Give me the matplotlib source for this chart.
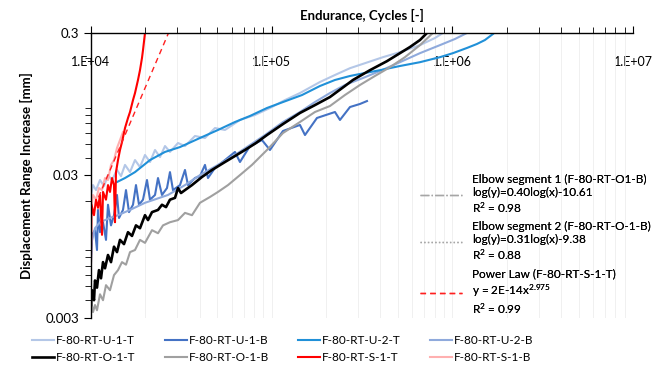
import matplotlib
matplotlib.use("Agg")
import matplotlib.pyplot as plt
from matplotlib.lines import Line2D

plt.rcParams['font.family'] = ['Lato', 'DejaVu Sans']
plt.rcParams['mathtext.fontset'] = 'custom'
plt.rcParams['mathtext.rm'] = 'Lato'
plt.rcParams['mathtext.it'] = 'Lato'

# ---------------- data (cycles, mm) ----------------
u1t_x = [10000, 10257, 10658, 11215, 11800, 12418, 13068, 13929, 14656, 15426, 16440, 17521, 18669,
         19900, 21210, 22610, 24090, 25680, 27360, 30310, 33130, 37630, 42740, 48560, 55140, 66760,
         80840, 97860, 118500, 143400, 185000, 224000, 271300, 328400, 413000, 512900, 662000,
         801400, 887100]
u1t_y = [0.0219, 0.0257, 0.0237, 0.0279, 0.0253, 0.0302, 0.0279, 0.0328, 0.0297, 0.0356, 0.0317,
         0.0385, 0.0344, 0.0418, 0.0373, 0.0453, 0.0404, 0.0483, 0.0439, 0.0507, 0.0483, 0.0568,
         0.0550, 0.0646, 0.0626, 0.0736, 0.0798, 0.0893, 0.1015, 0.1137, 0.1359, 0.1522, 0.1699,
         0.1842, 0.2030, 0.2201, 0.2466, 0.2767, 0.3]

u1b_x = [10000, 10128, 10523, 10794, 10933, 11215, 11654, 12106, 12418, 12903, 13406, 13929, 14289,
         15034, 15620, 16229, 17078, 17742, 18437, 19400, 20410, 21210, 22610, 23490, 24710, 26340,
         27360, 28430, 31090, 33130, 34410, 37630, 40110, 42740, 44410, 48560, 55140, 62640, 66760,
         75850, 88390, 97860, 115500, 143400, 152900, 178100, 224000, 238800, 271300, 308100, 337000]
u1b_y = [0.0074, 0.0115, 0.0124, 0.0090, 0.0172, 0.0120, 0.0141, 0.0106, 0.0187, 0.0134, 0.0158,
         0.0219, 0.0151, 0.0172, 0.0237, 0.0166, 0.0187, 0.0257, 0.0187, 0.0203, 0.0279, 0.0203,
         0.0219, 0.0288, 0.0219, 0.0245, 0.0317, 0.0237, 0.0257, 0.0328, 0.0257, 0.0288, 0.0297,
         0.0356, 0.0288, 0.0339, 0.0385, 0.0439, 0.0373, 0.0483, 0.0532, 0.0453, 0.0616, 0.0679,
         0.0577, 0.0760, 0.0837, 0.0736, 0.0907, 0.0953, 0.0999]

u2t_x = [13929, 15426, 17521, 21210, 25680, 31090, 40110, 50440, 62640, 75850, 94190, 115500,
         147200, 185000, 224000, 271300, 328400, 397600, 512900, 662000, 853800, 1007600, 1204000,
         1368000, 1515000, 1678000]
u2t_y = [0.0270, 0.0288, 0.0317, 0.0385, 0.0439, 0.0475, 0.0550, 0.0626, 0.0712, 0.0785, 0.0893,
         0.0983, 0.1101, 0.1274, 0.1404, 0.1498, 0.1572, 0.1645, 0.1760, 0.1872, 0.2030, 0.2166,
         0.2355, 0.2512, 0.2678, 0.2952]

u2b_x = [10000, 10523, 11215, 12739, 14107, 16440, 19900, 26670, 33130, 40110, 50440, 62640, 75850,
         91830, 115500, 143400, 173600, 210200, 254400, 320200, 397600, 512900, 662000, 853800,
         1034000, 1204000]
u2b_y = [0.0098, 0.0128, 0.0141, 0.0151, 0.0158, 0.0172, 0.0193, 0.0219, 0.0257, 0.0302, 0.0356,
         0.0418, 0.0491, 0.0577, 0.0712, 0.0837, 0.0983, 0.1137, 0.1295, 0.1450, 0.1624, 0.1872,
         0.2166, 0.2466, 0.2723, 0.3]

o1t_x = [10000, 10128, 10390, 10523, 10794, 11070, 11360, 11654, 11955, 12418, 12903, 13406, 13929,
         14471, 15225, 16024, 16864, 17742, 18669, 19900, 20680, 21760, 23490, 24710, 26010, 27360,
         29170, 30310, 31480, 33130, 36220, 41150, 46720, 55140, 62640, 71140, 81880, 94190, 115500,
         143400, 173600, 210200, 254400, 281800, 349900, 434600, 512900, 582900, 662000, 723700]
o1t_y = [0.0037, 0.0047, 0.0040, 0.0055, 0.0049, 0.0065, 0.0057, 0.0074, 0.0067, 0.0083, 0.0074,
         0.0095, 0.0087, 0.0106, 0.0099, 0.0120, 0.0113, 0.0134, 0.0128, 0.0158, 0.0146, 0.0166,
         0.0172, 0.0187, 0.0180, 0.0203, 0.0209, 0.0245, 0.0226, 0.0237, 0.0257, 0.0293, 0.0328,
         0.0373, 0.0411, 0.0453, 0.0507, 0.0577, 0.0689, 0.0824, 0.0936, 0.1066, 0.1274, 0.1404,
         0.1645, 0.1903, 0.2166, 0.2392, 0.2678, 0.3]

o1b_x = [10000, 10257, 10523, 10794, 11215, 11654, 12106, 12739, 13406, 14107, 14844, 15620, 16440,
         17521, 18669, 19900, 21760, 23490, 25030, 27360, 30310, 33130, 36220, 40110, 45550, 50440,
         57320, 66760, 77800, 94190, 115500, 143400, 173600, 210200, 254400, 308100, 372900, 451500,
         546700, 662000, 780800]
o1b_y = [0.0040, 0.0033, 0.0037, 0.0034, 0.0044, 0.0040, 0.0051, 0.0047, 0.0060, 0.0065, 0.0074,
         0.0071, 0.0087, 0.0090, 0.0106, 0.0101, 0.0124, 0.0118, 0.0134, 0.0141, 0.0146, 0.0164,
         0.0158, 0.0193, 0.0212, 0.0230, 0.0257, 0.0302, 0.0356, 0.0453, 0.0596, 0.0712, 0.0837,
         0.0922, 0.1101, 0.1295, 0.1498, 0.1726, 0.2030, 0.2466, 0.3]

s1t_x = [10000, 10064, 10390, 10658, 10933, 11215, 11506, 11654, 12106, 12418, 12739, 13068, 13406,
         13578, 13751, 14107, 14471, 14844, 15426, 16024, 16440, 17080, 17521, 18200, 18669, 19150,
         19400, 19900]
s1t_y = [0.0074, 0.0187, 0.0158, 0.0203, 0.0178, 0.0219, 0.0115, 0.0230, 0.0203, 0.0257, 0.0230,
         0.0288, 0.0257, 0.0141, 0.0317, 0.0385, 0.0453, 0.0515, 0.0646, 0.0760, 0.0837, 0.1015,
         0.1137, 0.1404, 0.1645, 0.2003, 0.2274, 0.3]

s1b_x = [10000, 10257, 10658, 11070, 11506, 11955, 12418, 12903, 13406, 13929, 14471, 15030]
s1b_y = [0.0172, 0.0219, 0.0203, 0.0245, 0.0237, 0.0288, 0.0279, 0.0356, 0.0385, 0.0468, 0.0532,
         0.0606]

# power law fit y = 2E-14 x^2.975 (drawn over its range)
fit_coef = 2e-14
fit_exp = 2.975
fit_x = [11000, 12000, 14000, 16000, 18000, 20000, 22000, 24000, 26000, 27000]
fit_y = [fit_coef * v ** fit_exp for v in fit_x]

series_labels = ['F-80-RT-U-1-T', 'F-80-RT-U-1-B', 'F-80-RT-U-2-T', 'F-80-RT-U-2-B',
                 'F-80-RT-O-1-T', 'F-80-RT-O-1-B', 'F-80-RT-S-1-T', 'F-80-RT-S-1-B']
x_ticks = [1e4, 1e5, 1e6, 1e7]
x_tick_labels = ['1.E+04', '1.E+05', '1.E+06', '1.E+07']
y_ticks = [0.003, 0.03, 0.3]
y_tick_labels = ['0.003', '0.03', '0.3']

# ---------------- figure ----------------
fig = plt.figure(figsize=(6.64, 3.68), dpi=100)
ax = fig.add_axes([91 / 664, 1 - 318 / 368, (633 - 91) / 664, (318 - 33) / 368])
ax.set_xscale('log')
ax.set_yscale('log')
ax.set_xlim(1e4, 1e7)
ax.set_ylim(0.003, 0.3)

c_u1t = '#B4C7E7'
c_u1b = '#4472C4'
c_u2t = '#2090D8'
c_u2b = '#8FAADC'
c_o1t = '#000000'
c_o1b = '#A0A0A0'
c_s1t = '#FF0000'
c_s1b = '#FFB0B0'

lw = 1.5
h_u1t, = ax.plot(u1t_x, u1t_y, color=c_u1t, lw=lw, label=series_labels[0])
h_u1b, = ax.plot(u1b_x, u1b_y, color=c_u1b, lw=lw, label=series_labels[1])
h_u2b, = ax.plot(u2b_x, u2b_y, color=c_u2b, lw=lw, label=series_labels[3])
h_u2t, = ax.plot(u2t_x, u2t_y, color=c_u2t, lw=lw, label=series_labels[2])
h_o1b, = ax.plot(o1b_x, o1b_y, color=c_o1b, lw=lw, label=series_labels[5])
h_o1t, = ax.plot(o1t_x, o1t_y, color=c_o1t, lw=1.9, label=series_labels[4])
h_s1b, = ax.plot(s1b_x, s1b_y, color=c_s1b, lw=lw, label=series_labels[7])
h_s1t, = ax.plot(s1t_x, s1t_y, color=c_s1t, lw=lw, label=series_labels[6])
ax.plot(fit_x, fit_y, color='#FF2020', lw=1.0, ls=(0, (4, 3)))

# axes styling
for s in ['right', 'bottom']:
    ax.spines[s].set_visible(False)
ax.spines['top'].set_linewidth(1.0)
ax.spines['left'].set_linewidth(1.0)
ax.xaxis.set_label_position('top')
ax.tick_params(axis='x', which='both', top=True, bottom=False, labeltop=True, labelbottom=False,
               direction='out', pad=-30, labelsize=9)
ax.tick_params(axis='x', which='major', length=5)
ax.tick_params(axis='x', which='minor', length=4)
ax.tick_params(axis='y', which='both', left=True, right=False, direction='out', labelsize=9.5)
ax.tick_params(axis='y', which='major', length=5)
ax.tick_params(axis='y', which='minor', length=4)
ax.set_xticks(x_ticks)
ax.set_xticklabels(x_tick_labels)
ax.set_yticks(y_ticks)
ax.set_yticklabels(y_tick_labels)
ax.yaxis.set_minor_formatter(matplotlib.ticker.NullFormatter())
ax.xaxis.set_minor_formatter(matplotlib.ticker.NullFormatter())
ax.grid(True, axis='x', which='both', color='#EEEEEE', lw=0.6)
ax.set_axisbelow(True)

ax.set_xlabel('Endurance, Cycles [-]', fontsize=9.5, fontweight='bold', labelpad=4)
ax.set_ylabel('Displacement Range Increase [mm]', fontsize=9.5, fontweight='bold', labelpad=9)

# trendline legend (inside right)
tr_handles = [Line2D([], [], color='#A6A6A6', lw=1.0, ls='-.'),
              Line2D([], [], color='#A6A6A6', lw=1.0, ls=':'),
              Line2D([], [], color='#FF2020', lw=1.0, ls=(0, (4, 3)))]
tr_labels = ['Elbow segment 1 (F-80-RT-O1-B)\nlog(y)=0.40log(x)-10.61\nR$^2$ = 0.98',
             'Elbow segment 2 (F-80-RT-O-1-B)\nlog(y)=0.31log(x)-9.38\nR$^2$ = 0.88',
             'Power Law (F-80-RT-S-1-T)\ny = 2E-14x$^{2.975}$\nR$^2$ = 0.99']
leg1 = ax.legend(tr_handles, tr_labels, loc='upper left', bbox_to_anchor=(414 / 664, 1 - 168 / 368),
                 bbox_transform=fig.transFigure, frameon=False, fontsize=8.5, handlelength=3.6,
                 handletextpad=0.8, labelspacing=0.55, borderpad=0)
ax.add_artist(leg1)

# bottom series legend
order = [h_u1t, h_o1t, h_u1b, h_o1b, h_u2t, h_s1t, h_u2b, h_s1b]
fig.legend(order, [h.get_label() for h in order], loc='upper left', ncol=4,
           bbox_to_anchor=(26 / 664, 1 - 329 / 368), frameon=False, fontsize=8.5,
           handlelength=1.9, handletextpad=0.15, columnspacing=2.45, labelspacing=0.55, borderpad=0)

fig.savefig('out.png', dpi=100)
